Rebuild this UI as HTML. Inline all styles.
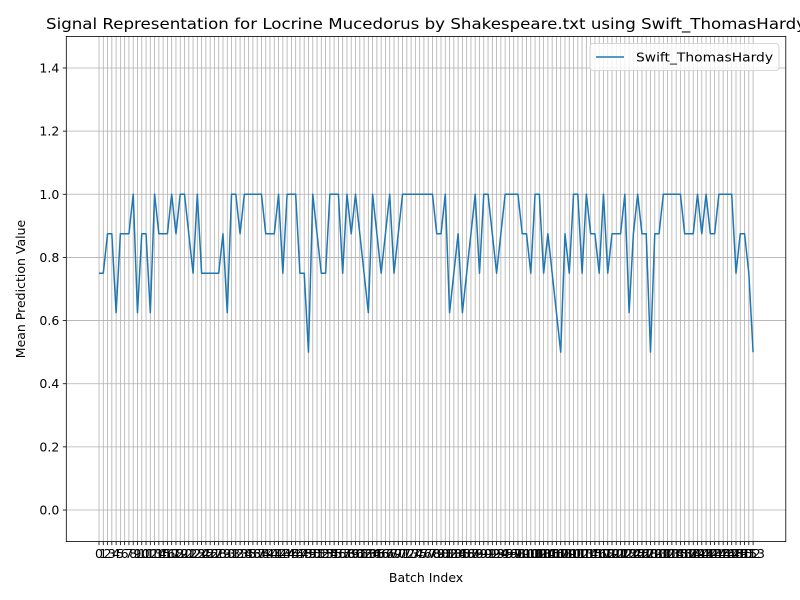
<!DOCTYPE html>
<html><head><meta charset="utf-8"><style>
body{margin:0;background:#fff;overflow:hidden}
svg{display:block;font-family:"DejaVu Sans","Liberation Sans",sans-serif}
</style></head><body>
<svg id="c" width="800" height="600"></svg>
<script>
const values = [0.75,0.75,0.875,0.875,0.625,0.875,0.875,0.875,1,0.625,
0.875,0.875,0.625,1,0.875,0.875,0.875,1,0.875,1,
1,0.875,0.75,1,0.75,0.75,0.75,0.75,0.75,0.875,
0.625,1,1,0.875,1,1,1,1,1,0.875,
0.875,0.875,1,0.75,1,1,1,0.75,0.75,0.5,
1,0.875,0.75,0.75,1,1,1,0.75,1,0.875,
1,0.875,0.75,0.625,1,0.875,0.75,0.875,1,0.75,
0.875,1,1,1,1,1,1,1,1,0.875,
0.875,1,0.625,0.75,0.875,0.625,0.75,0.875,1,0.75,
1,1,0.875,0.75,0.875,1,1,1,1,0.875,
0.875,0.75,1,1,0.75,0.875,0.75,0.625,0.5,0.875,
0.75,1,1,0.75,1,0.875,0.875,0.75,1,0.75,
0.875,0.875,0.875,1,0.625,0.875,1,0.875,0.875,0.5,
0.875,0.875,1,1,1,1,1,0.875,0.875,0.875,
1,0.875,1,0.875,0.875,1,1,1,1,0.75,
0.875,0.875,0.75,0.5];
const yTicks = [0.0,0.2,0.4,0.6,0.8,1.0,1.2,1.4];
const seriesName = "Swift_ThomasHardy";

const NS="http://www.w3.org/2000/svg";
const svg=document.getElementById('c');
const L=66.3,R=785.8,T=36.4,B=541.6;
const n=values.length;
const xmin=-0.05*(n-1), xmax=(n-1)*1.05;
const ymin=-0.1,ymax=1.5;
const X=i=>L+(i-xmin)/(xmax-xmin)*(R-L);
const Y=v=>B-(v-ymin)/(ymax-ymin)*(B-T);
function mk(tag,attrs,parent){const e=document.createElementNS(NS,tag);for(const k in attrs)e.setAttribute(k,attrs[k]);(parent||svg).appendChild(e);return e;}

const grid=mk('g',{});


const xt=mk('g',{});


for(let i=0;i<n;i++){
  const x=X(i);
  mk('line',{x1:x,x2:x,y1:T,y2:B,stroke:'#b0b0b0','stroke-width':0.8},grid);
  mk('line',{x1:x,x2:x,y1:B,y2:B+3.5,stroke:'#000','stroke-width':0.8},grid);
  const t=mk('text',{x:x,y:B+16.5,'font-size':12.5,'text-anchor':'middle',fill:'#000'},xt);
  t.textContent=i;
}
const yt=mk('g',{});


yTicks.forEach(v=>{
  const y=Y(v);
  mk('line',{x1:L,x2:R,y1:y,y2:y,stroke:'#b0b0b0','stroke-width':0.8},grid);
  mk('line',{x1:L-3.5,x2:L,y1:y,y2:y,stroke:'#000','stroke-width':0.8},grid);
  const t=mk('text',{x:L-7,y:y+4.5,'font-size':12.5,'text-anchor':'end',fill:'#000'},yt);
  t.textContent=v.toFixed(1);
});
const pts=values.map((v,i)=>X(i).toFixed(2)+','+Y(v).toFixed(2)).join(' ');
const line=mk('polyline',{points:pts,fill:'none',stroke:'#1f77b4','stroke-width':1.5,'stroke-linejoin':'round'});


const frame=mk('rect',{x:L,y:T,width:R-L,height:B-T,fill:'none',stroke:'#000','stroke-width':0.8});



const title=mk('text',{x:46,y:29,'font-size':15.5,fill:'#000',textLength:760,lengthAdjust:'spacingAndGlyphs'});
title.textContent="Signal Representation for Locrine Mucedorus by Shakespeare.txt using Swift_ThomasHardy";


const xl=mk('text',{x:(L+R)/2,y:582,'font-size':12.5,'text-anchor':'middle',fill:'#000'});
xl.textContent="Batch Index";


const yl=mk('text',{x:0,y:0,'font-size':12.5,'text-anchor':'middle',fill:'#000',transform:`translate(25,${(T+B)/2}) rotate(-90)`});
yl.textContent="Mean Prediction Value";



const lg=mk('g',{});


mk('rect',{x:590,y:43.5,width:189,height:27,rx:3,fill:'#fff','fill-opacity':0.8,stroke:'#ccc','stroke-width':0.8},lg);
mk('line',{x1:596,x2:624,y1:57,y2:57,stroke:'#1f77b4','stroke-width':1.5},lg);
const lt=mk('text',{x:636,y:61.5,'font-size':12.5,fill:'#000',textLength:137,lengthAdjust:'spacingAndGlyphs'},lg);
lt.textContent=seriesName;
</script>
</body></html>
